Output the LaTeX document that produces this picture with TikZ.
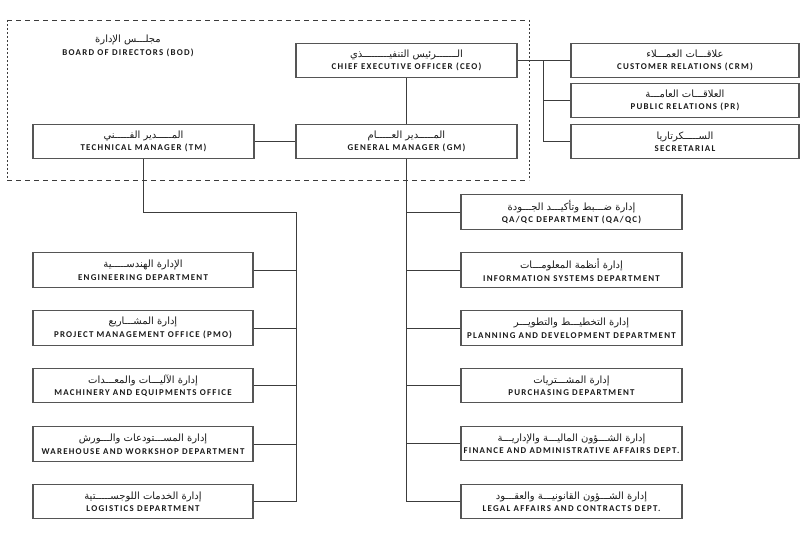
\documentclass[tikz,border=0pt]{standalone}
\usepackage{fontspec}
\TeXXeTstate=1
\newfontfamily\enfont{Carlito}[LetterSpace=14]
\newfontfamily\arfont[Script=Arabic]{DejaVu Sans}
\definecolor{boxcol}{RGB}{85,85,85}
\definecolor{linecol}{RGB}{60,60,60}
\definecolor{txtcol}{RGB}{25,25,25}
\newcommand{\bil}[2]{{\arfont\fontsize{10}{12.5}\selectfont\beginR #1\endR}\\{\enfont\bfseries\fontsize{8.9}{12.5}\selectfont #2}}
\tikzset{
  orgbox/.style={draw=boxcol, line width=1.1pt, rectangle, minimum height=34.5pt, inner sep=0pt, align=center, text=txtcol, font=\fontsize{7}{12.5}\selectfont},
  wbox/.style={orgbox, minimum width=221pt},
  conn/.style={draw=linecol, line width=1pt},
  bodline/.style={draw=linecol, line width=0.9pt},
}
\begin{document}
\begin{tikzpicture}[x=1pt,y=-1pt]
\useasboundingbox (0,0) rectangle (802,540);
% board of directors frame
\coordinate (d1) at (7,20);
\coordinate (d2) at (529,180);
\draw[bodline, dash pattern=on 5pt off 4pt] (d1) -- (d1 -| d2);
\draw[bodline, dash pattern=on 5pt off 4pt] (d1 |- d2) -- (d2);
\draw[bodline, dash pattern=on 2pt off 2pt] (d1) -- (d1 |- d2);
\draw[bodline, dash pattern=on 2pt off 2pt] (d1 -| d2) -- (d2);
\node[align=center, text=txtcol, font=\fontsize{7}{12.5}\selectfont] (bod) at (128,46) {\bil{مجلـــس الإدارة}{BOARD OF DIRECTORS (BOD)}};
% top level
\node[wbox] (ceo) at (406.5,60.5) {\bil{الـــــــرئيس التنفيـــــــــذي}{CHIEF EXECUTIVE OFFICER (CEO)}};
\node[wbox] (gm) at (406.5,141.5) {\bil{المـــــدير العـــــام}{GENERAL MANAGER (GM)}};
\node[wbox] (tm) at (143.5,141.5) {\bil{المـــــدير الفـــــني}{TECHNICAL MANAGER (TM)}};
% right staff
\node[orgbox, minimum width=228pt] (crm) at (685,60.5) {\bil{علاقـــات العمـــلاء}{CUSTOMER RELATIONS (CRM)}};
\node[orgbox, minimum width=228pt] (pr) at (685,100.5) {\bil{العلاقـــات العامـــة}{PUBLIC RELATIONS (PR)}};
\node[orgbox, minimum width=228pt] (sec) at (685,141.5) {\bil{الســـــكرتاريا}{SECRETARIAL}};
% left column
\node[wbox, minimum width=220pt] (eng) at (143,270) {\bil{الإدارة الهندســـــية}{ENGINEERING DEPARTMENT}};
\node[wbox, minimum width=220pt] (pmo) at (143,328) {\bil{إدارة المشـــاريع}{PROJECT MANAGEMENT OFFICE (PMO)}};
\node[wbox, minimum width=220pt] (mach) at (143,385.5) {\bil{إدارة الآليـــات والمعـــدات}{MACHINERY AND EQUIPMENTS OFFICE}};
\node[wbox, minimum width=220pt] (ware) at (143,444) {\bil{إدارة المســـتودعات والـــورش}{WAREHOUSE AND WORKSHOP DEPARTMENT}};
\node[wbox, minimum width=220pt] (logi) at (143,501.5) {\bil{إدارة الخدمات اللوجســـــتية}{LOGISTICS DEPARTMENT}};
% right column
\node[wbox] (qa) at (571.5,212) {\bil{إدارة ضـــبط وتأكيـــد الجـــودة}{QA/QC DEPARTMENT (QA/QC)}};
\node[wbox] (info) at (571.5,270) {\bil{إدارة أنظمة المعلومـــات}{INFORMATION SYSTEMS DEPARTMENT}};
\node[wbox] (plan) at (571.5,328) {\bil{إدارة التخطيـــط والتطويـــر}{PLANNING AND DEVELOPMENT DEPARTMENT}};
\node[wbox] (purch) at (571.5,385.5) {\bil{إدارة المشـــتريات}{PURCHASING DEPARTMENT}};
\node[wbox] (fin) at (571.5,443.5) {\bil{إدارة الشـــؤون الماليـــة والإداريـــة}{FINANCE AND ADMINISTRATIVE AFFAIRS DEPT.}};
\node[wbox] (legal) at (571.5,501.5) {\bil{إدارة الشـــؤون القانونيـــة والعقـــود}{LEGAL AFFAIRS AND CONTRACTS DEPT.}};
% connectors top
\draw[conn] (ceo.south) -- (gm.north);
\draw[conn] (tm.east) -- (gm.west);
\coordinate (sbus) at (543,60.5);
\draw[conn] (ceo.east) -- (crm.west);
\draw[conn] (sbus) |- (pr.west);
\draw[conn] (sbus) |- (sec.west);
% left bus
\coordinate (lbus) at (296,212);
\draw[conn] (tm.south) |- (lbus) -- (lbus |- logi.east);
\foreach \n in {eng,pmo,mach,ware,logi} \draw[conn] (\n.east) -- (\n.east -| lbus);
% right bus
\draw[conn] (gm.south) -- (gm.south |- legal.west);
\foreach \n in {qa,info,plan,purch,fin,legal} \draw[conn] (\n.west) -- (\n.west -| gm.south);
\end{tikzpicture}
\end{document}
